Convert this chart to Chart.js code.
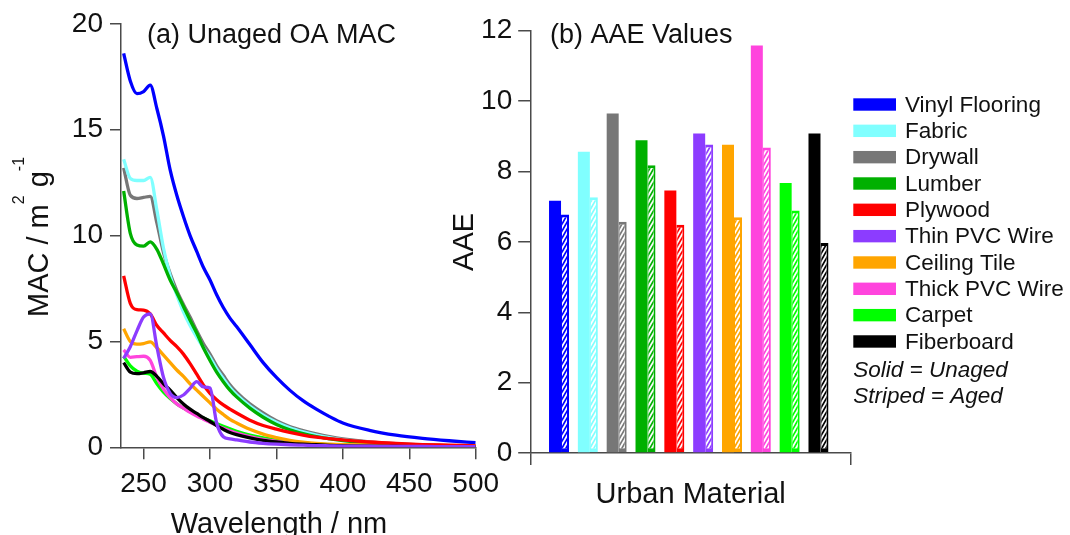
<!DOCTYPE html>
<html>
<head>
<meta charset="utf-8">
<script src="https://cdn.jsdelivr.net/npm/chart.js@4.4.0/dist/chart.umd.min.js"></script>
<style>
html,body{margin:0;padding:0;background:#fff;}
#wrap{position:relative;width:1070px;height:535px;overflow:hidden;background:#fff;}
#c1{position:absolute;left:0;top:0;}
#c2{position:absolute;left:440px;top:0;}
</style>
</head>
<body>
<div id="wrap">
<canvas id="c1" width="510" height="535"></canvas>
<canvas id="c2" width="630" height="535"></canvas>
</div>
<script>
// ---------- data ----------
const materials = ['Vinyl Flooring','Fabric','Drywall','Lumber','Plywood','Thin PVC Wire','Ceiling Tile','Thick PVC Wire','Carpet','Fiberboard'];
const materialColors = ['#0000FF','#80FFFF','#777777','#00B000','#FF0000','#8C3CFF','#FFA500','#FF44DD','#00FF00','#000000'];

const wavelengths = [235,240,245,250,255,260,265,270,275,280,285,290,295,300,305,310,315,320,330,340,350,360,370,380,390,400,420,440,460,480,500];

const macVinylFlooring = [18.6,17.3,16.7,16.8,17.1,16.0,14.7,13.1,11.9,10.9,10.0,9.25,8.5,7.9,7.2,6.6,6.1,5.7,4.85,4.0,3.3,2.7,2.2,1.8,1.45,1.15,0.8,0.57,0.42,0.31,0.22];
const macFabric        = [13.6,12.7,12.6,12.6,12.75,11.2,9.4,8.1,7.2,6.4,5.75,5.2,4.7,4.25,3.7,3.25,2.82,2.48,1.95,1.52,1.18,0.92,0.73,0.58,0.46,0.36,0.23,0.15,0.1,0.07,0.05];
const macDrywall       = [13.2,11.9,11.75,11.8,11.85,10.6,9.2,8.2,7.4,6.75,6.15,5.5,4.9,4.4,3.85,3.4,2.95,2.6,2.05,1.62,1.25,0.98,0.79,0.63,0.5,0.4,0.26,0.17,0.11,0.08,0.05];
const macLumber        = [12.1,10.1,9.55,9.5,9.7,9.35,8.65,7.9,7.3,6.65,6.0,5.4,4.7,4.1,3.55,3.1,2.7,2.38,1.85,1.42,1.08,0.83,0.65,0.51,0.4,0.32,0.2,0.13,0.09,0.06,0.04];
const macPlywood       = [8.1,6.8,6.5,6.48,6.3,5.75,5.4,5.05,4.75,4.4,3.95,3.45,2.95,2.55,2.25,2.0,1.8,1.62,1.28,1.03,0.86,0.71,0.58,0.48,0.41,0.35,0.25,0.18,0.13,0.1,0.07];
const macThinPVCWire   = [4.2,4.75,5.5,6.15,6.3,4.75,3.3,2.55,2.35,2.47,2.78,3.1,2.85,2.8,1.15,0.5,0.4,0.35,0.25,0.19,0.15,0.12,0.1,0.08,0.07,0.06,0.05,0.04,0.04,0.03,0.03];
const macCeilingTile   = [5.6,5.0,4.87,4.9,4.98,4.7,4.35,4.0,3.65,3.35,3.0,2.7,2.4,2.1,1.8,1.55,1.32,1.15,0.85,0.62,0.46,0.33,0.24,0.18,0.15,0.13,0.11,0.1,0.09,0.08,0.08];
const macThickPVCWire  = [4.6,4.25,4.28,4.3,4.1,3.3,2.75,2.35,2.05,1.85,1.65,1.48,1.33,1.18,1.03,0.9,0.78,0.67,0.5,0.37,0.28,0.2,0.15,0.11,0.08,0.06,0.04,0.03,0.02,0.02,0.01];
const macCarpet        = [4.3,3.85,3.6,3.5,3.45,3.0,2.6,2.3,2.05,1.85,1.68,1.52,1.38,1.25,1.12,0.99,0.87,0.76,0.58,0.45,0.35,0.27,0.21,0.16,0.13,0.1,0.07,0.05,0.04,0.03,0.02];
const macFiberboard    = [4.0,3.55,3.48,3.52,3.58,3.35,3.0,2.7,2.35,2.05,1.8,1.6,1.4,1.22,1.02,0.85,0.7,0.6,0.45,0.33,0.25,0.19,0.15,0.12,0.09,0.07,0.05,0.04,0.03,0.02,0.02];

const macSeries = [macVinylFlooring,macFabric,macDrywall,macLumber,macPlywood,macThinPVCWire,macCeilingTile,macThickPVCWire,macCarpet,macFiberboard];
const drawOrder = [9,7,8,6,2,0,3,4,5,1]; // lower = drawn on top

const aaeUnaged = [7.17,8.56,9.65,8.89,7.46,9.08,8.76,11.58,7.67,9.08];
const aaeAged   = [6.78,7.27,6.57,8.18,6.49,8.77,6.70,8.68,6.89,5.97];

const wavelengthTicks = [250,300,350,400,450,500];
const macTicks = [0,5,10,15,20];
const aaeTicks = [0,2,4,6,8,10,12];

// ---------- style ----------
const FONT = '"Liberation Sans", Arial, Helvetica, sans-serif';
const axisColor = '#4a4a4a';
const textColor = '#111111';
Chart.defaults.font.family = FONT;
Chart.defaults.color = textColor;

function forceTicks(values){ return s => { s.ticks = values.map(v => ({value: v})); }; }

const textPlugin = {
  id: 'texts',
  afterDraw(chart, args, opts){
    const ctx = chart.ctx;
    ctx.save();
    ctx.fillStyle = textColor;
    for (const t of opts.items){
      ctx.save();
      ctx.translate(t.x, t.y);
      if (t.rotate) ctx.rotate(-Math.PI/2);
      ctx.textBaseline = 'alphabetic';
      const parts = t.parts || [[t.text, t.size, 0]];
      let total = 0;
      for (const p of parts){ ctx.font = (t.style||'') + ' ' + p[1] + 'px ' + FONT; total += ctx.measureText(p[0]).width; }
      let x = t.align === 'center' ? -total/2 : 0;
      ctx.textAlign = 'left';
      for (const p of parts){
        ctx.font = (t.style||'') + ' ' + p[1] + 'px ' + FONT;
        ctx.fillText(p[0], x, -p[2]);
        x += ctx.measureText(p[0]).width;
      }
      ctx.restore();
    }
    ctx.restore();
  }
};

const legendPlugin = {
  id: 'matLegend',
  afterDraw(chart, args, opts){
    const ctx = chart.ctx;
    ctx.save();
    const x0 = opts.x, y0 = opts.y, dy = opts.dy;
    ctx.font = opts.size + 'px ' + FONT;
    ctx.textBaseline = 'middle';
    ctx.textAlign = 'left';
    materials.forEach((m, i) => {
      const cy = y0 + dy*i;
      ctx.fillStyle = materialColors[i];
      ctx.fillRect(x0, cy - 6.2, 42.7, 12.4);
      ctx.fillStyle = textColor;
      ctx.fillText(m, x0 + 51.7, cy + 1);
    });
    ctx.font = 'italic ' + opts.size + 'px ' + FONT;
    ctx.textBaseline = 'alphabetic';
    ctx.fillText('Solid = Unaged', x0, y0 + dy*materials.length + 9);
    ctx.fillText('Striped = Aged', x0, y0 + dy*(materials.length+1) + 9);
    ctx.restore();
  }
};

function stripePattern(color){
  const c = document.createElement('canvas');
  c.width = 4; c.height = 7;
  const g = c.getContext('2d');
  g.fillStyle = color; g.fillRect(0,0,4,7);
  g.strokeStyle = '#ffffff'; g.lineWidth = 1.8;
  for (let n = -1; n <= 1; n++){
    g.beginPath(); g.moveTo(-1, 8.75 + 7*n); g.lineTo(5, -1.75 + 7*n); g.stroke();
  }
  return g.createPattern(c, 'repeat');
}

function axisCommon(tickLen){
  return {
    grid: {drawOnChartArea:false, drawTicks:true, tickLength:tickLen, color:axisColor, lineWidth:1.5, offset:false},
    border: {color:axisColor, width:1.5},
  };
}

// ---------- left chart ----------
new Chart(document.getElementById('c1'), {
  type: 'line',
  data: {
    datasets: materials.map((m, i) => ({
      label: m,
      data: wavelengths.map((w, j) => ({x: w, y: macSeries[i][j]})),
      borderColor: materialColors[i],
      backgroundColor: materialColors[i],
      borderWidth: 3.3,
      pointRadius: 0,
      cubicInterpolationMode: 'monotone',
      fill: false,
      order: drawOrder[i]
    }))
  },
  options: {
    responsive: false, animation: false, events: [],
    layout: {autoPadding: false, padding: {left:0, top:23.3, right:34.3, bottom:0}},
    plugins: {
      legend: {display:false}, tooltip: {enabled:false},
      texts: {items: [
        {text:'(a) Unaged OA MAC', size:27, x:147, y:42.5},
        {text:'Wavelength / nm', size:29, x:279, y:533, align:'center'},
        {parts:[['MAC / m',29,0],['2',16,24],[' g',29,0],['-1',16,24]], x:48.3, y:317, rotate:true}
      ]}
    },
    scales: {
      x: Object.assign(axisCommon(12), {
        type:'linear', min:233, max:500,
        afterBuildTicks: forceTicks(wavelengthTicks),
        afterFit: s => { s.height = 87.7; },
        ticks: {font:{size:28}, color:textColor, padding:8, maxRotation:0, autoSkip:false}
      }),
      y: Object.assign(axisCommon(11), {
        type:'linear', min:0, max:20,
        afterBuildTicks: forceTicks(macTicks),
        afterFit: s => { s.width = 121; },
        ticks: {font:{size:28}, color:textColor, padding:7}
      })
    }
  },
  plugins: [textPlugin]
});

// ---------- right chart ----------
new Chart(document.getElementById('c2'), {
  type: 'bar',
  data: {
    datasets: [
      {
        label: 'Unaged',
        data: aaeUnaged.map((v, i) => ({x: i + 1, y: v})),
        backgroundColor: materialColors,
        borderWidth: 0,
        categoryPercentage: 0.6243,
        barPercentage: 1.3333
      },
      {
        label: 'Aged',
        data: aaeAged.map((v, i) => ({x: i + 1, y: v})),
        backgroundColor: materialColors.map(stripePattern),
        borderColor: materialColors,
        borderWidth: {top:3, left:1, right:2, bottom:4},
        borderSkipped: false,
        categoryPercentage: 0.763,
        barPercentage: 0.7273
      }
    ]
  },
  options: {
    responsive: false, animation: false, events: [],
    layout: {autoPadding: false, padding: {left:0, top:30.7, right:219.3, bottom:0}},
    plugins: {
      legend: {display:false}, tooltip: {enabled:false},
      texts: {items: [
        {text:'(b) AAE Values', size:27, x:110, y:42.5},
        {text:'Urban Material', size:29, x:250.7, y:503, align:'center'},
        {text:'AAE', size:29, x:33.3, y:241.9, rotate:true, align:'center'}
      ]},
      matLegend: {x:413.3, y:104.5, dy:26.33, size:22.5}
    },
    scales: {
      x: Object.assign(axisCommon(12), {
        type:'linear', min:0, max:11.1, offset:false,
        afterBuildTicks: s => { s.ticks = [{value: s.min}, {value: s.max}]; },
        afterFit: s => { s.height = 535 - 453.1; },
        ticks: {display:false}
      }),
      y: Object.assign(axisCommon(12.5), {
        type:'linear', min:0, max:12,
        afterBuildTicks: forceTicks(aaeTicks),
        afterFit: s => { s.width = 90.7; },
        ticks: {font:{size:28}, color:textColor, padding:6}
      })
    }
  },
  plugins: [textPlugin, legendPlugin]
});
</script>
</body>
</html>
